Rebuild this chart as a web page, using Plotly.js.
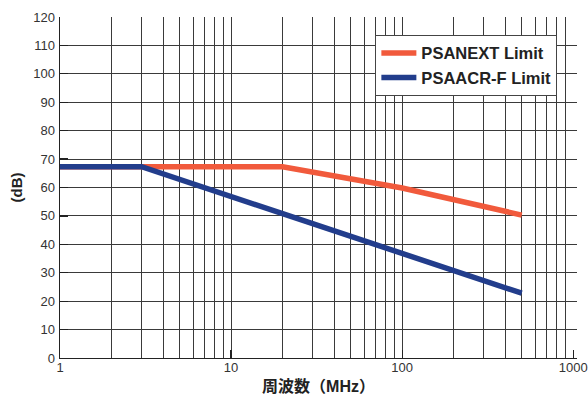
<!DOCTYPE html>
<html><head><meta charset="utf-8">
<script src="https://cdn.plot.ly/plotly-3.0.1.min.js"></script>
<style>html,body{margin:0;padding:0;background:#fff}#chart{width:588px;height:395px}</style>
</head><body><div id="chart"></div>
<script>
// Frequency (MHz) and limit values (dB)
const freqPsanext = [1, 20, 100, 500];
const psanext = [67.3, 67.3, 59.8, 50.3];
const freqPsaacr = [1, 3, 20, 100, 500];
const psaacrF = [67.3, 67.3, 50.8, 36.8, 22.8];
const seriesNames = ['PSANEXT Limit', 'PSAACR-F Limit'];
const seriesColors = ['#f15a3c', '#223d8c'];
// Axis ticks
const xLabelVals = [1, 10, 100, 1000];
const xLabelText = ['1', '10', '100', '1000'];
const xGridVals = [2, 3, 4, 5, 6, 7, 8, 9, 10, 20, 30, 40, 50, 60, 70, 80, 90, 100, 200, 300, 400, 500, 600, 700, 800, 900];
const yLabelVals = [0, 10, 20, 30, 40, 50, 60, 70, 80, 90, 100, 110, 120];
const yLabelText = ['0', '10', '20', '30', '40', '50', '60', '70', '80', '90', '100', '110', '120'];
const yGridVals = [10, 20, 30, 40, 50, 60, 70, 80, 90, 100, 110];

const LAT = '"Liberation Sans", Arial, Helvetica, sans-serif';
const CJK = '"Liberation Sans", "Noto Sans CJK JP", sans-serif';

const traces = [
  {x: freqPsanext, y: psanext, name: seriesNames[0], type: 'scatter', mode: 'lines',
   xaxis: 'x', yaxis: 'y',
   line: {color: seriesColors[0], width: 5.5}, hoverinfo: 'skip'},
  {x: freqPsaacr, y: psaacrF, name: seriesNames[1], type: 'scatter', mode: 'lines',
   xaxis: 'x2', yaxis: 'y2',
   line: {color: seriesColors[1], width: 5.5}, hoverinfo: 'skip'}
];

const xRange = [0, 3.022];
const yRange = [0, 120];
const tickFont = {family: LAT, size: 13, color: '#333'};
const layout = {
  width: 588, height: 395,
  margin: {l: 60, r: 11, t: 17, b: 37},
  paper_bgcolor: '#fff', plot_bgcolor: '#fff',
  showlegend: true,
  legend: {x: 0.61, y: 0.948, xanchor: 'left', yanchor: 'top', bgcolor: '#fff',
    bordercolor: '#444', borderwidth: 1, tracegroupgap: 0, itemwidth: 35,
    font: {family: LAT, size: 16.5, color: '#222', weight: 'bold'}},
  // grid axes
  xaxis: {type: 'log', range: xRange, tickmode: 'array', tickvals: xGridVals,
    showticklabels: false, ticks: '', showgrid: true, gridcolor: '#3a3a3a', gridwidth: 1,
    showline: true, linecolor: '#222', linewidth: 1.3, zeroline: false, fixedrange: true},
  yaxis: {range: yRange, tickmode: 'array', tickvals: yGridVals,
    showticklabels: false, ticks: '', showgrid: true, gridcolor: '#3a3a3a', gridwidth: 1,
    showline: true, linecolor: '#222', linewidth: 1.3, zeroline: false, fixedrange: true,
    title: {text: '(dB)', standoff: 32, font: {family: LAT, size: 15, color: '#222', weight: 'bold'}}},
  // label axes
  xaxis2: {type: 'log', overlaying: 'x', anchor: 'y2', side: 'bottom', range: xRange,
    tickmode: 'array', tickvals: xLabelVals, ticktext: xLabelText,
    ticks: 'inside', ticklen: 8, tickcolor: '#222', tickwidth: 1.3,
    showgrid: false, showline: false, zeroline: false, fixedrange: true,
    tickfont: tickFont,
    title: {text: '周波数（MHz）', standoff: 16, font: {family: CJK, size: 16, color: '#222', weight: 'bold'}}},
  yaxis2: {overlaying: 'y', anchor: 'x2', side: 'left', range: yRange,
    tickmode: 'array', tickvals: yLabelVals, ticktext: yLabelText,
    ticks: 'inside', ticklen: 8, tickcolor: '#222', tickwidth: 1.3, ticklabelstandoff: 4,
    showgrid: false, showline: false, zeroline: false, fixedrange: true,
    tickfont: tickFont}
};

Plotly.newPlot('chart', traces, layout, {displayModeBar: false, staticPlot: true});
</script>
</body></html>
